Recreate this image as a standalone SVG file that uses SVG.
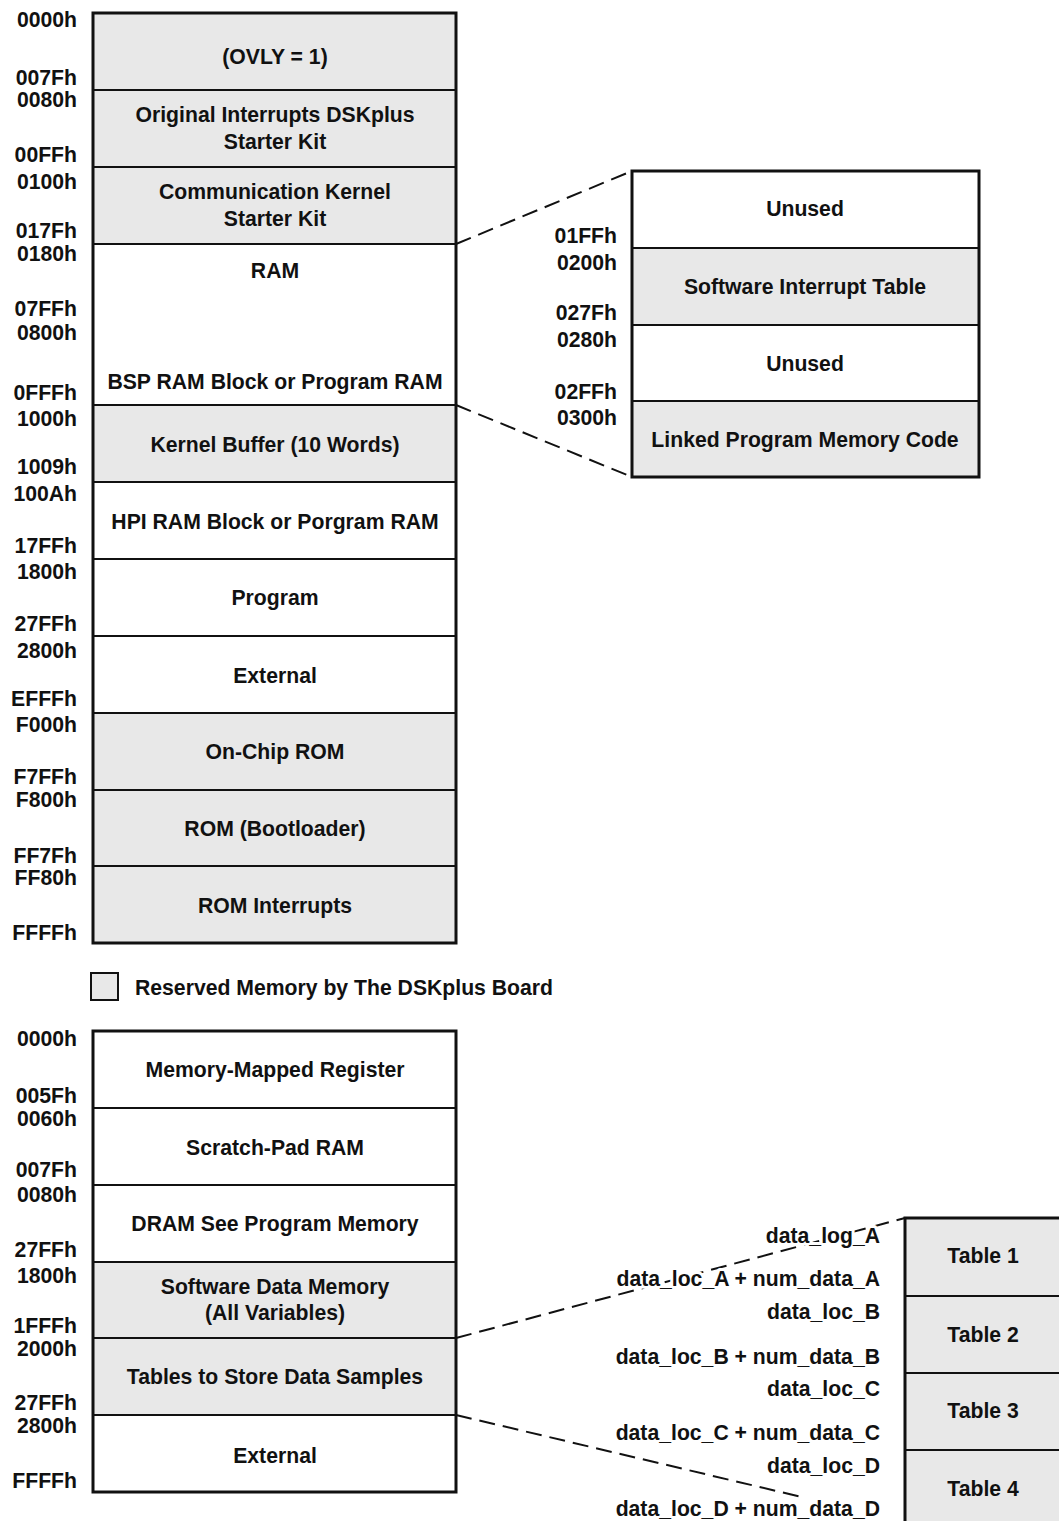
<svg xmlns="http://www.w3.org/2000/svg" width="1059" height="1521" viewBox="0 0 1059 1521">
<style>
text{font-family:"Liberation Sans",Arial,sans-serif;font-weight:bold;font-size:21.2px;fill:#111}
.c{text-anchor:middle}
.r{text-anchor:end}
.h{stroke:#fff;stroke-width:6;paint-order:stroke;stroke-linejoin:round}
.g{fill:#e8e8e8;stroke:#111;stroke-width:2}
.w{fill:#fff;stroke:#111;stroke-width:2}
.o{fill:none;stroke:#111;stroke-width:3}
.d{fill:none;stroke:#111;stroke-width:2;stroke-dasharray:16 8}
</style>
<rect width="1059" height="1521" fill="#fff"/>
<g id="connectors">
<line class="d" x1="456" y1="244" x2="632" y2="171"/>
<line class="d" x1="456" y1="405" x2="632" y2="477"/>
<line class="d" x1="456" y1="1338" x2="905" y2="1218"/>
<line class="d" x1="456" y1="1415" x2="806" y2="1498"/>
</g>
<g id="program-memory">
<rect class="g" x="93" y="13" width="363" height="77"/>
<rect class="g" x="93" y="90" width="363" height="77"/>
<rect class="g" x="93" y="167" width="363" height="77"/>
<rect class="w" x="93" y="244" width="363" height="161"/>
<rect class="g" x="93" y="405" width="363" height="77"/>
<rect class="w" x="93" y="482" width="363" height="77"/>
<rect class="w" x="93" y="559" width="363" height="77"/>
<rect class="w" x="93" y="636" width="363" height="77"/>
<rect class="g" x="93" y="713" width="363" height="77"/>
<rect class="g" x="93" y="790" width="363" height="76"/>
<rect class="g" x="93" y="866" width="363" height="77"/>
<rect class="o" x="93" y="13" width="363" height="930"/>
<text class="c" x="275" y="64">(OVLY = 1)</text>
<text class="c" x="275" y="122">Original Interrupts DSKplus</text>
<text class="c" x="275" y="149">Starter Kit</text>
<text class="c" x="275" y="199">Communication Kernel</text>
<text class="c" x="275" y="226">Starter Kit</text>
<text class="c" x="275" y="278">RAM</text>
<text class="c" x="275" y="389">BSP RAM Block or Program RAM</text>
<text class="c" x="275" y="452">Kernel Buffer (10 Words)</text>
<text class="c" x="275" y="529">HPI RAM Block or Porgram RAM</text>
<text class="c" x="275" y="605">Program</text>
<text class="c" x="275" y="683">External</text>
<text class="c" x="275" y="759">On-Chip ROM</text>
<text class="c" x="275" y="836">ROM (Bootloader)</text>
<text class="c" x="275" y="913">ROM Interrupts</text>
<text class="r" x="77" y="27">0000h</text>
<text class="r" x="77" y="85">007Fh</text>
<text class="r" x="77" y="107">0080h</text>
<text class="r" x="77" y="162">00FFh</text>
<text class="r" x="77" y="189">0100h</text>
<text class="r" x="77" y="238">017Fh</text>
<text class="r" x="77" y="261">0180h</text>
<text class="r" x="77" y="316">07FFh</text>
<text class="r" x="77" y="340">0800h</text>
<text class="r" x="77" y="400">0FFFh</text>
<text class="r" x="77" y="426">1000h</text>
<text class="r" x="77" y="474">1009h</text>
<text class="r" x="77" y="501">100Ah</text>
<text class="r" x="77" y="553">17FFh</text>
<text class="r" x="77" y="579">1800h</text>
<text class="r" x="77" y="631">27FFh</text>
<text class="r" x="77" y="658">2800h</text>
<text class="r" x="77" y="706">EFFFh</text>
<text class="r" x="77" y="732">F000h</text>
<text class="r" x="77" y="784">F7FFh</text>
<text class="r" x="77" y="807">F800h</text>
<text class="r" x="77" y="863">FF7Fh</text>
<text class="r" x="77" y="885">FF80h</text>
<text class="r" x="77" y="940">FFFFh</text>
</g>
<g id="expanded-ram">
<rect class="w" x="632" y="171" width="347" height="77"/>
<rect class="g" x="632" y="248" width="347" height="77"/>
<rect class="w" x="632" y="325" width="347" height="76"/>
<rect class="g" x="632" y="401" width="347" height="76"/>
<rect class="o" x="632" y="171" width="347" height="306"/>
<text class="c" x="805" y="216">Unused</text>
<text class="c" x="805" y="294">Software Interrupt Table</text>
<text class="c" x="805" y="371">Unused</text>
<text class="c" x="805" y="447">Linked Program Memory Code</text>
<text class="r" x="617" y="243">01FFh</text>
<text class="r" x="617" y="270">0200h</text>
<text class="r" x="617" y="320">027Fh</text>
<text class="r" x="617" y="347">0280h</text>
<text class="r" x="617" y="399">02FFh</text>
<text class="r" x="617" y="425">0300h</text>
</g>
<g id="legend">
<rect class="g" x="91" y="973" width="27" height="27"/>
<text x="135" y="995">Reserved Memory by The DSKplus Board</text>
</g>
<g id="data-memory">
<rect class="w" x="93" y="1031" width="363" height="77"/>
<rect class="w" x="93" y="1108" width="363" height="77"/>
<rect class="w" x="93" y="1185" width="363" height="77"/>
<rect class="g" x="93" y="1262" width="363" height="76"/>
<rect class="g" x="93" y="1338" width="363" height="77"/>
<rect class="w" x="93" y="1415" width="363" height="77"/>
<rect class="o" x="93" y="1031" width="363" height="461"/>
<text class="c" x="275" y="1077">Memory-Mapped Register</text>
<text class="c" x="275" y="1155">Scratch-Pad RAM</text>
<text class="c" x="275" y="1231">DRAM See Program Memory</text>
<text class="c" x="275" y="1294">Software Data Memory</text>
<text class="c" x="275" y="1320">(All Variables)</text>
<text class="c" x="275" y="1384">Tables to Store Data Samples</text>
<text class="c" x="275" y="1463">External</text>
<text class="r" x="77" y="1046">0000h</text>
<text class="r" x="77" y="1103">005Fh</text>
<text class="r" x="77" y="1126">0060h</text>
<text class="r" x="77" y="1177">007Fh</text>
<text class="r" x="77" y="1202">0080h</text>
<text class="r" x="77" y="1257">27FFh</text>
<text class="r" x="77" y="1283">1800h</text>
<text class="r" x="77" y="1333">1FFFh</text>
<text class="r" x="77" y="1356">2000h</text>
<text class="r" x="77" y="1410">27FFh</text>
<text class="r" x="77" y="1433">2800h</text>
<text class="r" x="77" y="1488">FFFFh</text>
</g>
<g id="tables">
<rect class="g" x="905" y="1218" width="160" height="78"/>
<rect class="g" x="905" y="1296" width="160" height="77"/>
<rect class="g" x="905" y="1373" width="160" height="77"/>
<rect class="g" x="905" y="1450" width="160" height="80"/>
<polyline class="o" points="1062,1218 905,1218 905,1530"/>
<text class="c" x="983" y="1263">Table 1</text>
<text class="c" x="983" y="1342">Table 2</text>
<text class="c" x="983" y="1418">Table 3</text>
<text class="c" x="983" y="1496">Table 4</text>
<text class="r h" x="880" y="1243">data_log_A</text>
<text class="r h" x="880" y="1286">data_loc_A + num_data_A</text>
<text class="r h" x="880" y="1319">data_loc_B</text>
<text class="r h" x="880" y="1364">data_loc_B + num_data_B</text>
<text class="r h" x="880" y="1396">data_loc_C</text>
<text class="r h" x="880" y="1440">data_loc_C + num_data_C</text>
<text class="r h" x="880" y="1473">data_loc_D</text>
<text class="r h" x="880" y="1516">data_loc_D + num_data_D</text>
</g>
</svg>
